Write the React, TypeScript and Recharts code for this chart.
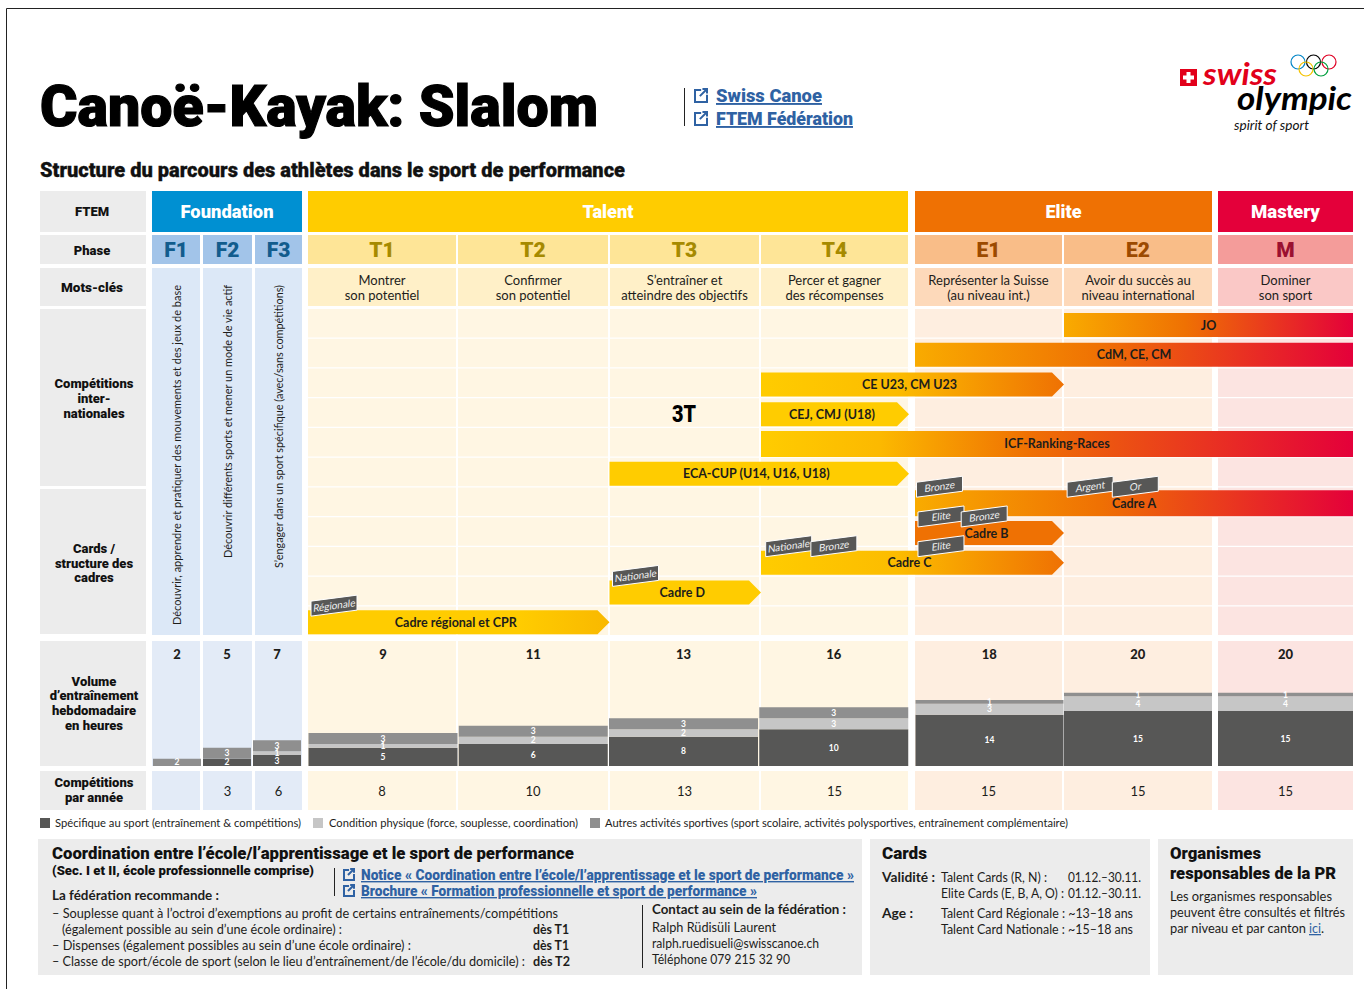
// App.tsx - parcours FTEM Canoë-Kayak Slalom
import { BarChart, Bar, XAxis, YAxis, LabelList, ReferenceDot } from 'recharts';

const phases = ['F1', 'F2', 'F3', 'T1', 'T2', 'T3', 'T4', 'E1', 'E2', 'M'];
const specificHours = [0, 2, 3, 5, 6, 8, 10, 14, 15, 15];
const conditionHours = [0, 0, 1, 1, 2, 2, 3, 3, 4, 4];
const otherHours = [2, 3, 3, 3, 3, 3, 3, 1, 1, 1];
const totalHours = [2, 5, 7, 9, 11, 13, 16, 18, 20, 20];
const competitionsPerYear = ['', '3', '6', '8', '10', '13', '15', '15', '15', '15'];

const keywords = [
  ['Montrer', 'son potentiel'],
  ['Confirmer', 'son potentiel'],
  ["S’entraîner et", 'atteindre des objectifs'],
  ['Percer et gagner', 'des récompenses'],
  ['Représenter la Suisse', '(au niveau int.)'],
  ['Avoir du succès au', 'niveau international'],
  ['Dominer', 'son sport'],
];

// parcours : stade de depart / fin (0 = debut T1, 7 = fin M)
const pathLabels = ['JO', 'CdM, CE, CM', 'CE U23, CM U23', 'CEJ, CMJ (U18)', 'ICF-Ranking-Races', 'ECA-CUP (U14, U16, U18)', 'Cadre A', 'Cadre B', 'Cadre C', 'Cadre D', 'Cadre régional et CPR'];
const pathStart = [5, 4, 3, 3, 3, 2, 4, 4, 3, 2, 0];
const pathEnd = [7, 7, 5, 3.95, 7, 3.95, 7, 5, 5, 3, 2];

const tagTexts = ['Bronze', 'Argent', 'Or', 'Elite', 'Bronze', 'Nationale', 'Bronze', 'Elite', 'Nationale', 'Régionale'];
const tagRows = ['Cadre A', 'Cadre A', 'Cadre A', 'Cadre B', 'Cadre B', 'Cadre C', 'Cadre C', 'Cadre C', 'Cadre D', 'Cadre régional et CPR'];
const tagStages = [4.01, 5.02, 5.31, 4.02, 4.31, 3.03, 3.32, 4.02, 2.02, 0.02];

const BODY = 'Lato, sans-serif';
const HEAD = 'Roboto, sans-serif';
const DARK = '#575756';
const LIGHT = '#c6c6c6';
const MID = '#8f8f8f';
const BLUE = '#2f62a3';
const YELLOW = '#ffcc00';
const ORANGE = '#ef7103';
const RED = '#e4003a';

const fullStops: [number, string][] = [[0, '#f9ab00'], [0.42, ORANGE], [1, RED]];
const longStops: [number, string][] = [[0, YELLOW], [0.2, '#fcb900'], [0.45, ORANGE], [1, RED]];
const shortStops: [number, string][] = [[0, YELLOW], [0.45, '#fcbc00'], [1, ORANGE]];
const pathGradients: [number, string][][] = [
  fullStops, fullStops, shortStops, [[0, YELLOW], [1, YELLOW]], longStops, [[0, YELLOW], [1, YELLOW]],
  fullStops, [[0, ORANGE], [1, ORANGE]], shortStops, [[0, YELLOW], [1, YELLOW]], [[0, YELLOW], [0.7, YELLOW], [1, '#f9b800']],
];

const volumeData = phases.map((phase, i) => ({
  phase,
  specific: specificHours[i],
  condition: conditionHours[i],
  other: otherHours[i],
  total: totalHours[i],
}));
const pathData = pathLabels.map((label, i) => ({ label, range: [pathStart[i], pathEnd[i]] }));

// echelle par morceaux : les colonnes n'ont pas toutes la meme largeur
const STAGES = [0, 1, 2, 3, 3.95, 4, 5, 5.95, 6, 7];
const STAGE_PX = [0, 150.5, 301.5, 453, 601, 607, 756, 904, 910, 1045];
function stageScale(dom: number[] = [0, 7], rng: number[] = [0, 1045]) {
  const f: any = (v: number) => {
    let i = 0;
    while (i < STAGES.length - 2 && v > STAGES[i + 1]) i++;
    const t = (v - STAGES[i]) / (STAGES[i + 1] - STAGES[i]);
    const px = STAGE_PX[i] + t * (STAGE_PX[i + 1] - STAGE_PX[i]);
    return rng[0] + (px / 1045) * (rng[1] - rng[0]);
  };
  f.domain = (d?: number[]) => (d ? stageScale(d, rng) : dom);
  f.range = (r?: number[]) => (r ? stageScale(dom, r) : rng);
  f.copy = () => stageScale(dom, rng);
  f.ticks = () => STAGES;
  return f;
}

const PHASE_COLS = [
  [152, 200], [203, 252], [255, 302],
  [308, 456], [458, 608], [610, 759], [761, 908],
  [915, 1062], [1064, 1212], [1218, 1353],
];
const cellColor = (i: number) => (i < 3 ? '#e3ebf7' : i < 7 ? '#fff6e3' : i < 9 ? '#feeee0' : '#fce4e1');
const kwColor = (i: number) => (i < 3 ? '#dce8f7' : i < 7 ? '#fff0c8' : i < 9 ? '#fdd9ba' : '#fac8c6');
const phaseBg = (i: number) => (i < 3 ? '#a2c4e9' : i < 7 ? '#fee597' : i < 9 ? '#f9bd88' : '#f49c9a');
const phaseFg = (i: number) => (i < 3 ? '#125c8d' : i < 7 ? '#a68a00' : i < 9 ? '#9c4a00' : '#9b1030');

type TxProps = {
  x: number; y: number; w?: number; size?: number; weight?: number; fill?: string; heavy?: number;
  anchor?: 'start' | 'middle' | 'end'; font?: string; italic?: boolean; underline?: boolean; rotate?: boolean;
  children: React.ReactNode;
};
function Tx({ x, y, w, size = 13, weight = 400, fill = '#1d1d1b', heavy, anchor = 'start', font = BODY, italic, underline, rotate, children }: TxProps) {
  return (
    <text
      x={x}
      y={y}
      fontSize={size}
      fontWeight={weight}
      fill={fill}
      stroke={heavy ? fill : undefined}
      strokeWidth={heavy}
      fontFamily={font}
      textAnchor={anchor}
      fontStyle={italic ? 'italic' : 'normal'}
      textDecoration={underline ? 'underline' : 'none'}
      textLength={w}
      lengthAdjust={w ? 'spacingAndGlyphs' : undefined}
      transform={rotate ? `rotate(-90 ${x} ${y})` : undefined}
    >
      {children}
    </text>
  );
}

function LinkIcon({ x, y, s = 13 }: { x: number; y: number; s?: number }) {
  return (
    <g fill="none" stroke={BLUE} strokeWidth={2}>
      <path d={`M${x + s * 0.55} ${y + 1}H${x + 1}V${y + s}H${x + s}V${y + s * 0.45}`} />
      <path d={`M${x + s * 0.45} ${y + s * 0.55}L${x + s} ${y}M${x + s * 0.65} ${y}H${x + s}V${y + s * 0.35}`} />
    </g>
  );
}

function PathBar(props: any) {
  const { x, y, width, height, index } = props;
  const label = pathLabels[index];
  const hasArrow = pathEnd[index] < 7;
  const tall = label === 'ICF-Ranking-Races' || label === 'Cadre A';
  const top = tall ? y - 1 : y;
  const h = tall ? height + 2 : height;
  const tip = 12;
  const right = x + width;
  const pts = hasArrow
    ? `${x},${top} ${right - tip},${top} ${right},${top + h / 2} ${right - tip},${top + h} ${x},${top + h}`
    : `${x},${top} ${right},${top} ${right},${top + h} ${x},${top + h}`;
  const id = `path-grad-${index}`;
  return (
    <g>
      <defs>
        <linearGradient id={id} x1="0" x2="1" y1="0" y2="0">
          {pathGradients[index].map(([o, c]) => <stop key={o} offset={o} stopColor={c} />)}
        </linearGradient>
      </defs>
      <polygon points={pts} fill={`url(#${id})`} />
      <text x={x + width / 2 - (hasArrow ? 3 : 0)} y={top + h / 2 + 4.5} textAnchor="middle" fontSize={12.5} fontWeight={700} fontFamily={BODY} fill="#1d1d1b">
        {label}
      </text>
    </g>
  );
}

function TagShape({ cx, cy, text }: any) {
  const w = 46;
  const pts = `${cx},${cy - 21} ${cx + w},${cy - 27} ${cx + w},${cy - 12} ${cx},${cy - 6}`;
  return (
    <g>
      <polygon points={pts} fill={DARK} stroke="#fff" strokeWidth={1} />
      <text
        textAnchor="middle"
        fontSize={10}
        fontFamily={BODY}
        fill="#f2f2f2"
        transform={`translate(${cx + w / 2} ${cy - 13}) rotate(-8) skewX(-12)`}
      >
        {text}
      </text>
    </g>
  );
}

function VolumeChart({ first, last, left, width, gap }: { first: number; last: number; left: number; width: number; gap: number }) {
  return (
    <div style={{ position: 'absolute', left, top: 640 }}>
      <BarChart width={width} height={126} data={volumeData.slice(first, last)} margin={{ top: 0, right: 0, bottom: 0, left: 0 }} barCategoryGap={gap}>
        <XAxis
          dataKey="phase"
          orientation="top"
          height={1}
          axisLine={false}
          tickLine={false}
          interval={0}
          tick={(p: any) => (
            <text x={p.x} y={19} textAnchor="middle" fontSize={13} fontWeight={900} fontFamily={BODY} fill="#1d1d1b">
              {totalHours[phases.indexOf(p.payload.value)]}
            </text>
          )}
        />
        <YAxis hide domain={[0, 34.1]} />
        {[['specific', DARK], ['condition', LIGHT], ['other', MID]].map(([key, color]) => (
          <Bar key={key} dataKey={key} stackId="h" fill={color} isAnimationActive={false}>
            <LabelList
              dataKey={key}
              position="center"
              fill="#fff"
              fontSize={8.5}
              fontWeight={700}
              fontFamily={BODY}
              formatter={(v: any) => (v ? v : '')}
            />
          </Bar>
        ))}
      </BarChart>
    </div>
  );
}

function Backdrop() {
  const rowTop = (i: number) => 309 + i * 29.75;
  const labelCells = [[191, 41], [235, 29], [268, 38], [309, 177], [489, 145], [641, 125], [771, 39]];
  return (
    <svg width={1364} height={989} style={{ position: 'absolute', left: 0, top: 0 }}>
      <path d="M6.5 989V8.5H1364" fill="none" stroke="#222" strokeWidth={1} />
      <Tx x={40} y={126} w={558} size={58} weight={900} font={HEAD} fill="#000" heavy={1.2}>Canoë-Kayak: Slalom</Tx>
      <Tx x={40} y={177} w={585} size={20} weight={900} font={HEAD} fill="#111" heavy={0.3}>Structure du parcours des athlètes dans le sport de performance</Tx>

      <rect x={684} y={88} width={1} height={38} fill="#222" />
      <LinkIcon x={694} y={89} />
      <LinkIcon x={694} y={112} />
      <Tx x={716} y={102} w={106} size={19} weight={900} font={HEAD} fill={BLUE} underline>Swiss Canoe</Tx>
      <Tx x={716} y={125} w={137} size={19} weight={900} font={HEAD} fill={BLUE} underline>FTEM Fédération</Tx>

      {/* logo */}
      <rect x={1180} y={69} width={17} height={17} fill="#e2001a" />
      <path d="M1186.5 72h4v3.5h3.5v4h-3.5V83h-4v-3.5H1183v-4h3.5z" fill="#fff" />
      <Tx x={1203} y={85} w={74} size={31} weight={700} italic fill="#e2001a">swiss</Tx>
      <Tx x={1237} y={110} w={115} size={33} weight={700} italic fill="#000">olympic</Tx>
      <Tx x={1234} y={130} w={75} size={13} italic fill="#111">spirit of sport</Tx>
      {[[1298, 62, '#0085c7'], [1313.5, 62, '#000'], [1329, 62, '#df0024'], [1306, 69, '#f4c300'], [1321, 69, '#009f3d']].map(([cx, cy, c]) => (
        <circle key={String(c)} cx={cx as number} cy={cy as number} r={7} fill="none" stroke={c as string} strokeWidth={1.2} />
      ))}

      {labelCells.map(([y, h]) => <rect key={y} x={40} y={y} width={106} height={h} fill="#ececec" />)}
      <Tx x={92} y={216} size={13} weight={900} anchor="middle" font={HEAD} fill="#111">FTEM</Tx>
      <Tx x={92} y={255} size={13} weight={900} anchor="middle" font={HEAD} fill="#111">Phase</Tx>
      <Tx x={92} y={292} size={13.5} weight={900} anchor="middle" font={HEAD} fill="#111">Mots-clés</Tx>
      {[['Compétitions', 388], ['inter-', 403], ['nationales', 418], ['Cards /', 553], ['structure des', 568], ['cadres', 582], ['Volume', 686], ['d’entraînement', 700], ['hebdomadaire', 715], ['en heures', 730], ['Compétitions', 787], ['par année', 802]].map(([t, y]) => (
        <Tx key={`${t}${y}`} x={94} y={y as number} size={13} weight={900} anchor="middle" font={HEAD} fill="#111">{t}</Tx>
      ))}

      {[[152, 150, '#0090d2', 'Foundation', 93], [308, 600, YELLOW, 'Talent', 51], [915, 297, ORANGE, 'Elite', 36], [1218, 135, RED, 'Mastery', 69]].map(([x, w, c, t, tw]) => (
        <g key={t as string}>
          <rect x={x as number} y={191} width={w as number} height={41} fill={c as string} />
          <Tx x={(x as number) + (w as number) / 2} y={218} w={tw as number} size={19} weight={900} anchor="middle" font={HEAD} fill="#fff">{t}</Tx>
        </g>
      ))}

      {PHASE_COLS.map(([x0, x1], i) => (
        <g key={phases[i]}>
          <rect x={x0} y={235} width={x1 - x0} height={29} fill={phaseBg(i)} />
          <Tx x={(x0 + x1) / 2} y={257} size={21} weight={900} anchor="middle" font={HEAD} fill={phaseFg(i)}>{phases[i]}</Tx>
          {i < 3 ? (
            <rect x={x0} y={268} width={x1 - x0} height={367} fill={kwColor(i)} />
          ) : (
            <>
              <rect x={x0} y={268} width={x1 - x0} height={38} fill={kwColor(i)} />
              <Tx x={(x0 + x1) / 2} y={285} size={13} anchor="middle">{keywords[i - 3][0]}</Tx>
              <Tx x={(x0 + x1) / 2} y={300} size={13} anchor="middle">{keywords[i - 3][1]}</Tx>
              {pathLabels.map((_, r) => (
                <rect key={r} x={x0} y={rowTop(r)} width={x1 - x0} height={28.5} fill={cellColor(i)} />
              ))}
            </>
          )}
          <rect x={x0} y={641} width={x1 - x0} height={125} fill={cellColor(i)} />
          <rect x={x0} y={771} width={x1 - x0} height={39} fill={cellColor(i)} />
          <Tx x={(x0 + x1) / 2} y={796} size={13} anchor="middle">{competitionsPerYear[i]}</Tx>
        </g>
      ))}

      <Tx x={181} y={285} w={340} size={12} anchor="end" rotate>Découvrir, apprendre et pratiquer des mouvements et des jeux de base</Tx>
      <Tx x={232} y={285} w={273} size={12} anchor="end" rotate>Découvrir différents sports et mener un mode de vie actif</Tx>
      <Tx x={283} y={285} w={283} size={12} anchor="end" rotate>S’engager dans un sport spécifique (avec/sans compétitions)</Tx>

      <Tx x={684} y={422} w={24} size={23} weight={900} anchor="middle" font={HEAD} fill="#000">3T</Tx>

      {/* legende */}
      <rect x={40} y={818} width={10} height={10} fill={DARK} />
      <Tx x={55} y={827} w={246} size={11.5}>Spécifique au sport (entraînement &amp; compétitions)</Tx>
      <rect x={313} y={818} width={10} height={10} fill={LIGHT} />
      <Tx x={329} y={827} w={249} size={11.5}>Condition physique (force, souplesse, coordination)</Tx>
      <rect x={590} y={818} width={10} height={10} fill={MID} />
      <Tx x={605} y={827} w={463} size={11.5}>Autres activités sportives (sport scolaire, activités polysportives, entraînement complémentaire)</Tx>

      {/* encadres du bas */}
      <rect x={38} y={839} width={824} height={136} fill="#ececec" />
      <rect x={870} y={839} width={280} height={136} fill="#ececec" />
      <rect x={1158} y={839} width={195} height={136} fill="#ececec" />

      <Tx x={52} y={859} w={522} size={17} weight={900} font={HEAD} fill="#111">Coordination entre l’école/l’apprentissage et le sport de performance</Tx>
      <Tx x={52} y={875} w={262} size={13} weight={900} font={HEAD} fill="#111">(Sec. I et II, école professionnelle comprise)</Tx>
      <rect x={334} y={868} width={1} height={28} fill="#222" />
      <LinkIcon x={343} y={869} s={11} />
      <LinkIcon x={343} y={885} s={11} />
      <Tx x={361} y={880} w={493} size={14} weight={900} font={HEAD} fill={BLUE} underline>Notice « Coordination entre l’école/l’apprentissage et le sport de performance »</Tx>
      <Tx x={361} y={896} w={396} size={14} weight={900} font={HEAD} fill={BLUE} underline>Brochure « Formation professionnelle et sport de performance »</Tx>
      <Tx x={52} y={900} w={167} size={13.5} weight={700}>La fédération recommande :</Tx>
      <Tx x={52} y={918} w={506} size={13}>– Souplesse quant à l’octroi d’exemptions au profit de certains entraînements/compétitions</Tx>
      <Tx x={62} y={934} w={280} size={13}>(également possible au sein d’une école ordinaire) :</Tx>
      <Tx x={52} y={950} w={359} size={13}>– Dispenses (également possibles au sein d’une école ordinaire) :</Tx>
      <Tx x={52} y={965.5} w={473} size={12.5}>– Classe de sport/école de sport (selon le lieu d’entraînement/de l’école/du domicile) :</Tx>
      <Tx x={533} y={934} w={36} size={13} weight={700}>dès T1</Tx>
      <Tx x={533} y={950} w={36} size={13} weight={700}>dès T1</Tx>
      <Tx x={533} y={965.5} w={37} size={12.5} weight={700}>dès T2</Tx>
      <rect x={642} y={905} width={1} height={63} fill="#222" />
      <Tx x={652} y={914} w={194} size={13} weight={700}>Contact au sein de la fédération :</Tx>
      <Tx x={652} y={932} w={124} size={13}>Ralph Rüdisüli Laurent</Tx>
      <Tx x={652} y={948} w={167} size={13}>ralph.ruedisueli@swisscanoe.ch</Tx>
      <Tx x={652} y={964} w={138} size={13}>Téléphone 079 215 32 90</Tx>

      <Tx x={882} y={859} w={45} size={17} weight={900} font={HEAD} fill="#111">Cards</Tx>
      <Tx x={882} y={882} w={53} size={13} weight={700}>Validité :</Tx>
      <Tx x={941} y={882} w={106} size={13}>Talent Cards (R, N) :</Tx>
      <Tx x={1068} y={882} w={73} size={13}>01.12.–30.11.</Tx>
      <Tx x={941} y={898} w={123} size={13}>Elite Cards (E, B, A, O) :</Tx>
      <Tx x={1068} y={898} w={73} size={13}>01.12.–30.11.</Tx>
      <Tx x={882} y={918} w={31} size={13} weight={700}>Age :</Tx>
      <Tx x={941} y={918} w={192} size={13}>Talent Card Régionale : ~13–18 ans</Tx>
      <Tx x={941} y={934} w={192} size={13}>Talent Card Nationale : ~15–18 ans</Tx>

      <Tx x={1170} y={859} w={91} size={17} weight={900} font={HEAD} fill="#111">Organismes</Tx>
      <Tx x={1170} y={879} w={166} size={17} weight={900} font={HEAD} fill="#111">responsables de la PR</Tx>
      <Tx x={1170} y={901} w={162} size={13}>Les organismes responsables</Tx>
      <Tx x={1170} y={917} w={175} size={13}>peuvent être consultés et filtrés</Tx>
      <Tx x={1170} y={933} w={136} size={13}>par niveau et par canton</Tx>
      <Tx x={1309} y={933} w={12} size={13} fill={BLUE} underline>ici</Tx>
      <Tx x={1321} y={933} size={13}>.</Tx>
    </svg>
  );
}

export default function App() {
  return (
    <div style={{ position: 'absolute', left: 0, top: 0, width: 1364, height: 989, overflow: 'hidden', background: '#fff' }}>
      <Backdrop />

      <div style={{ position: 'absolute', left: 308, top: 309.5 }}>
        <BarChart width={1045} height={327} layout="vertical" data={pathData} margin={{ top: 0, right: 0, bottom: 0, left: 0 }} style={{ overflow: 'visible' }}>
          <XAxis type="number" hide domain={[0, 7]} scale={stageScale() as any} />
          <YAxis type="category" hide dataKey="label" />
          <Bar dataKey="range" barSize={24} shape={PathBar} isAnimationActive={false} />
          {tagTexts.map((text, i) => (
            <ReferenceDot
              key={i}
              x={tagStages[i]}
              y={tagRows[i]}
              ifOverflow="visible"
              shape={(p: any) => <TagShape cx={p.cx} cy={p.cy} text={text} />}
            />
          ))}
        </BarChart>
      </div>

      <VolumeChart first={0} last={3} left={152} width={150} gap={1} />
      <VolumeChart first={3} last={7} left={308} width={601} gap={0.5} />
      <VolumeChart first={7} last={9} left={915} width={297} gap={0.5} />
      <VolumeChart first={9} last={10} left={1218} width={135} gap={0} />
    </div>
  );
}
